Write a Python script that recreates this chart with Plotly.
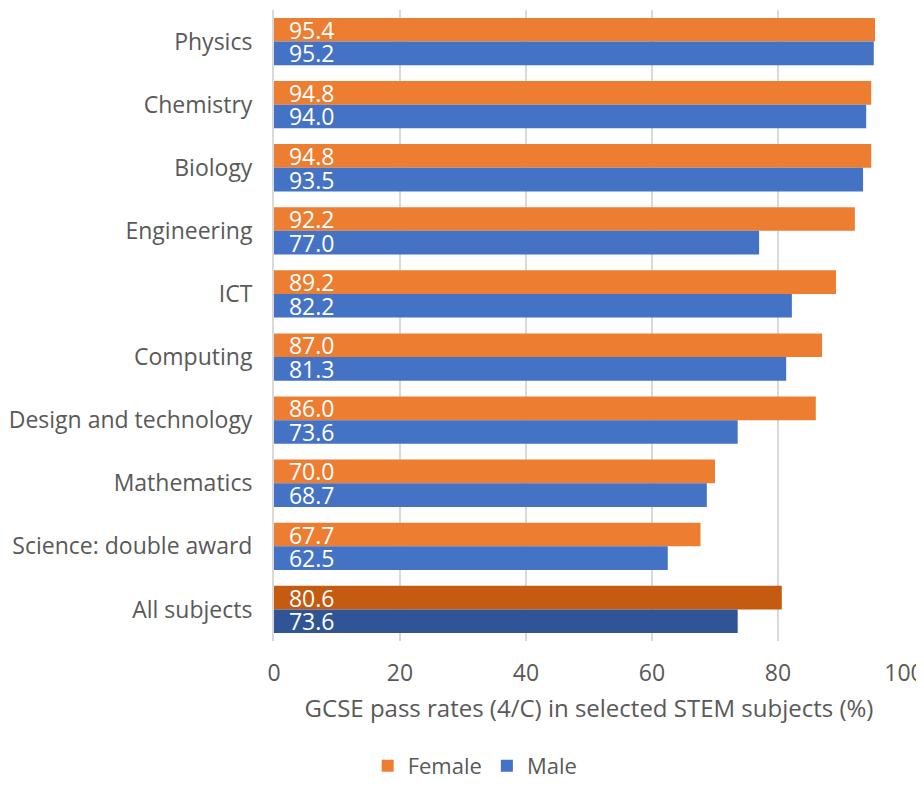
import plotly.graph_objects as go

categories = ["Physics", "Chemistry", "Biology", "Engineering", "ICT", "Computing",
              "Design and technology", "Mathematics", "Science: double award", "All subjects"]
female = [95.4, 94.8, 94.8, 92.2, 89.2, 87.0, 86.0, 70.0, 67.7, 80.6]
male = [95.2, 94.0, 93.5, 77.0, 82.2, 81.3, 73.6, 68.7, 62.5, 73.6]
x_ticks = [0, 20, 40, 60, 80, 100]

ORANGE, DARK_ORANGE = "#ED7D31", "#C55A11"
BLUE, DARK_BLUE = "#4472C4", "#2F5597"
FONT = "Open Sans"
GREY = "#595959"

f_colors = [DARK_ORANGE if c == "All subjects" else ORANGE for c in categories]
m_colors = [DARK_BLUE if c == "All subjects" else BLUE for c in categories]

fig = go.Figure()
for name, vals, cols in [("Female", female, f_colors), ("Male", male, m_colors)]:
    fig.add_trace(go.Bar(
        y=categories, x=vals, name=name, orientation="h",
        marker=dict(color=cols, line=dict(width=0)),
        text=["\u00a0\u00a0" + f"{v:.1f}" for v in vals],
        textposition="inside", insidetextanchor="start", constraintext="none",
        textfont=dict(color="white", size=23, family=FONT),
        hoverinfo="x+y",
    ))

fig.update_layout(
    width=916, height=774,
    margin=dict(l=266, r=20, t=2, b=141, autoexpand=False),
    barmode="group", bargap=0.25, bargroupgap=0,
    plot_bgcolor="white", paper_bgcolor="white",
    font=dict(family=FONT, size=23, color=GREY),
    legend=dict(orientation="h", x=0.51, xref="container", xanchor="center",
                y=-0.198, yanchor="middle",
                font=dict(size=22, color=GREY), traceorder="normal"),
    xaxis=dict(range=[0, 100], tickvals=x_ticks, showgrid=True, gridcolor="#D9D9D9",
               gridwidth=1.5, zeroline=False, showline=False, automargin=False,
               ticklabeloverflow="allow",
               ticks="outside", ticklen=11, tickcolor="rgba(0,0,0,0)",
               tickfont=dict(size=23, color=GREY),
               title=dict(text="GCSE pass rates (4/C) in selected STEM subjects (%)",
                          font=dict(size=24, color=GREY), standoff=13)),
    yaxis=dict(autorange="reversed", showline=True, linecolor="#D9D9D9", linewidth=2,
               automargin=False,
               ticks="outside", ticklen=15, tickcolor="rgba(0,0,0,0)",
               tickfont=dict(size=23, color=GREY)),
)

fig.write_html("out.html")
